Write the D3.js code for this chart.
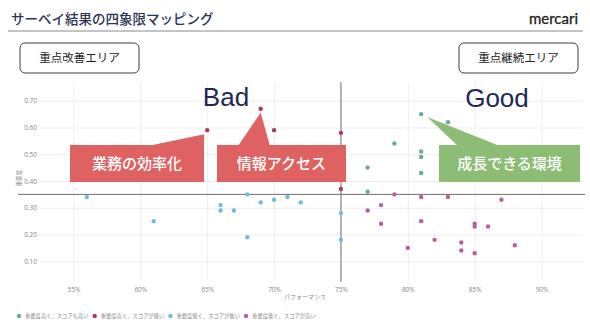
<!DOCTYPE html>
<html>
<head>
<meta charset="utf-8">
<script src="https://cdn.jsdelivr.net/npm/d3@7"></script>
<style>
  body { margin: 0; background: #fff; }
  svg { display: block; font-family: "Noto Sans CJK JP", "Noto Sans", sans-serif; }
</style>
</head>
<body>
<div id="chart"></div>
<script>
// パフォーマンス (%) と 重要度 の組
const highImpHighScore = [[81, 0.65], [83, 0.62], [79, 0.54], [81, 0.51], [81, 0.49], [77, 0.45], [81, 0.43], [77, 0.36]];
const highImpLowScore = [[65, 0.59], [69, 0.67], [70, 0.59], [75, 0.58], [75, 0.37]];
const lowImpLowScore = [[56, 0.34], [61, 0.25], [66, 0.31], [66, 0.29], [67, 0.29], [68, 0.35], [68, 0.19],
    [69, 0.32], [70, 0.33], [71, 0.34], [72, 0.32], [75, 0.28], [75, 0.18]];
const lowImpHighScore = [[79, 0.35], [81, 0.34], [83, 0.34], [78, 0.31], [77, 0.29], [78, 0.24], [81, 0.25],
    [80, 0.15], [82, 0.18], [84, 0.17], [84, 0.14], [85, 0.13], [85, 0.24], [85, 0.23], [86, 0.23], [87, 0.33], [88, 0.16]];

const seriesLabels = ["重要度高く、スコアも高い", "重要度高く、スコアが低い", "重要度低く、スコアが低い", "重要度低く、スコアが高い"];
const xTicks = [55, 60, 65, 70, 75, 80, 85, 90];
const yTicks = [0.1, 0.2, 0.3, 0.4, 0.5, 0.6, 0.7];
const perfThreshold = 75;
const impThreshold = 0.35;

const callouts = [
    { label: "業務の効率化", target: [65, 0.59] },
    { label: "情報アクセス", target: [69, 0.67] },
    { label: "成長できる環境", target: [81, 0.65] }
];

const W = 590, H = 333;
const plot = { left: 40, right: 583, top: 82, bottom: 280 };

const svg = d3.select("#chart").append("svg")
    .attr("width", W)
    .attr("height", H)
    .attr("viewBox", `0 0 ${W} ${H}`);

// title + logo
svg.append("text")
    .attr("x", 11).attr("y", 24)
    .attr("font-size", 13.5).attr("font-weight", 500)
    .attr("fill", "#2e3456")
    .text("サーベイ結果の四象限マッピング");
svg.append("line")
    .attr("x1", 8).attr("x2", 583).attr("y1", 31).attr("y2", 31)
    .attr("stroke", "#8a8a8a").attr("stroke-width", 1);
svg.append("text")
    .attr("x", 578).attr("y", 24)
    .attr("text-anchor", "end")
    .attr("font-family", "Lato, sans-serif")
    .attr("font-size", 15).attr("font-weight", 400)
    .attr("fill", "#222")
    .attr("stroke", "#222").attr("stroke-width", 0.3)
    .text("mercari");

const x = d3.scaleLinear().domain([52.5, 93.1]).range([plot.left, plot.right]);
const y = d3.scaleLinear().domain([0.03, 0.77]).range([plot.bottom, plot.top]);

// grid
svg.append("g")
    .attr("transform", `translate(0,${plot.bottom})`)
    .call(d3.axisBottom(x).tickValues(xTicks).tickSize(-(plot.bottom - plot.top)).tickPadding(7).tickFormat(d => d + "%"))
    .call(g => g.select(".domain").remove())
    .call(g => g.selectAll(".tick line").attr("stroke", "#eeeeee"))
    .call(g => g.selectAll(".tick text").attr("fill", "#888").attr("font-size", 6.5).attr("font-family", "Open Sans, sans-serif"));

svg.append("g")
    .attr("transform", `translate(${plot.left},0)`)
    .call(d3.axisLeft(y).tickValues(yTicks).tickSize(-(plot.right - plot.left)).tickPadding(3).tickFormat(d3.format(".2f")))
    .call(g => g.select(".domain").remove())
    .call(g => g.selectAll(".tick line").attr("stroke", "#eeeeee"))
    .call(g => g.selectAll(".tick text").attr("fill", "#888").attr("font-size", 6.5).attr("font-family", "Open Sans, sans-serif"));

// axis titles
svg.append("text")
    .attr("x", 305).attr("y", 299)
    .attr("text-anchor", "middle")
    .attr("font-size", 6).attr("fill", "#888")
    .text("パフォーマンス");
svg.append("text")
    .attr("transform", `translate(21,${y(0.41)}) rotate(-90)`)
    .attr("text-anchor", "middle")
    .attr("font-size", 5.5).attr("fill", "#888")
    .text("重要度");

// quadrant lines
svg.append("line")
    .attr("x1", 18).attr("x2", 585)
    .attr("y1", y(impThreshold)).attr("y2", y(impThreshold))
    .attr("stroke", "#6e6e6e").attr("stroke-width", 1);
svg.append("line")
    .attr("x1", x(perfThreshold)).attr("x2", x(perfThreshold))
    .attr("y1", plot.top).attr("y2", plot.bottom + 2)
    .attr("stroke", "#7a6f78").attr("stroke-width", 1);

// points
const color = d3.scaleOrdinal()
    .domain(seriesLabels)
    .range(["#6aa99b", "#a83d55", "#74bcd8", "#b0649f"]);

const series = [highImpHighScore, highImpLowScore, lowImpLowScore, lowImpHighScore];
series.forEach((pts, i) => {
    svg.append("g").selectAll("circle")
        .data(pts)
        .enter().append("circle")
        .attr("cx", d => x(d[0]))
        .attr("cy", d => y(d[1]))
        .attr("r", 2.2)
        .attr("fill", color(seriesLabels[i]));
});

// area boxes
const areas = [
    { label: "重点改善エリア", x: 20 },
    { label: "重点継続エリア", x: 459 }
];
areas.forEach(a => {
    svg.append("rect")
        .attr("x", a.x).attr("y", 43)
        .attr("width", 119).attr("height", 30)
        .attr("rx", 5)
        .attr("fill", "#fff").attr("stroke", "#3a3f4e").attr("stroke-width", 1);
    svg.append("text")
        .attr("x", a.x + 59.5).attr("y", 58)
        .attr("dy", "0.35em")
        .attr("text-anchor", "middle")
        .attr("font-size", 11.5).attr("fill", "#222")
        .text(a.label);
});

// Bad / Good
svg.append("text")
    .attr("x", 226).attr("y", 106)
    .attr("text-anchor", "middle")
    .attr("font-family", "Liberation Sans, Arial, sans-serif")
    .attr("font-size", 26).attr("fill", "#1f2857")
    .text("Bad");
svg.append("text")
    .attr("x", 497).attr("y", 107)
    .attr("text-anchor", "middle")
    .attr("font-family", "Liberation Sans, Arial, sans-serif")
    .attr("font-size", 26).attr("fill", "#1f2857")
    .text("Good");

// callouts: box + wedge pointing to the target point
const boxes = [
    { x0: 70, x1: 204, w0: 148, w1: 204, fill: "#df6262", tipDx: -3, tipDy: 4 },
    { x0: 217, x1: 346, w0: 238, w1: 270, fill: "#df6262", tipDx: 0, tipDy: 4 },
    { x0: 439, x1: 580, w0: 458, w1: 500, fill: "#8dbd75", tipDx: 6, tipDy: 3 }
];
callouts.forEach((c, i) => {
    const b = boxes[i];
    const top = 145, bottom = 182;
    const tx = x(c.target[0]) + b.tipDx, ty = y(c.target[1]) + b.tipDy;
    svg.append("path")
        .attr("d", `M${b.w0},${top + 1}L${tx},${ty}L${b.w1},${top + 1}Z`)
        .attr("fill", b.fill);
    svg.append("rect")
        .attr("x", b.x0).attr("y", top)
        .attr("width", b.x1 - b.x0).attr("height", bottom - top)
        .attr("fill", b.fill);
    svg.append("text")
        .attr("x", (b.x0 + b.x1) / 2).attr("y", (top + bottom) / 2)
        .attr("dy", "0.36em")
        .attr("text-anchor", "middle")
        .attr("font-size", 15).attr("font-weight", 500)
        .attr("fill", "#fff")
        .text(c.label);
});

// legend
const legend = svg.append("g").attr("transform", "translate(19,316)");
legend.selectAll("g")
    .data(seriesLabels)
    .enter().append("g")
    .attr("transform", (d, i) => `translate(${i * 75.7},0)`)
    .each(function(d) {
        const item = d3.select(this);
        item.append("circle").attr("r", 2.2).attr("fill", color(d));
        item.append("text")
            .attr("x", 6).attr("dy", "0.35em")
            .attr("font-size", 5.3).attr("fill", "#888")
            .text(d);
    });
</script>
</body>
</html>
